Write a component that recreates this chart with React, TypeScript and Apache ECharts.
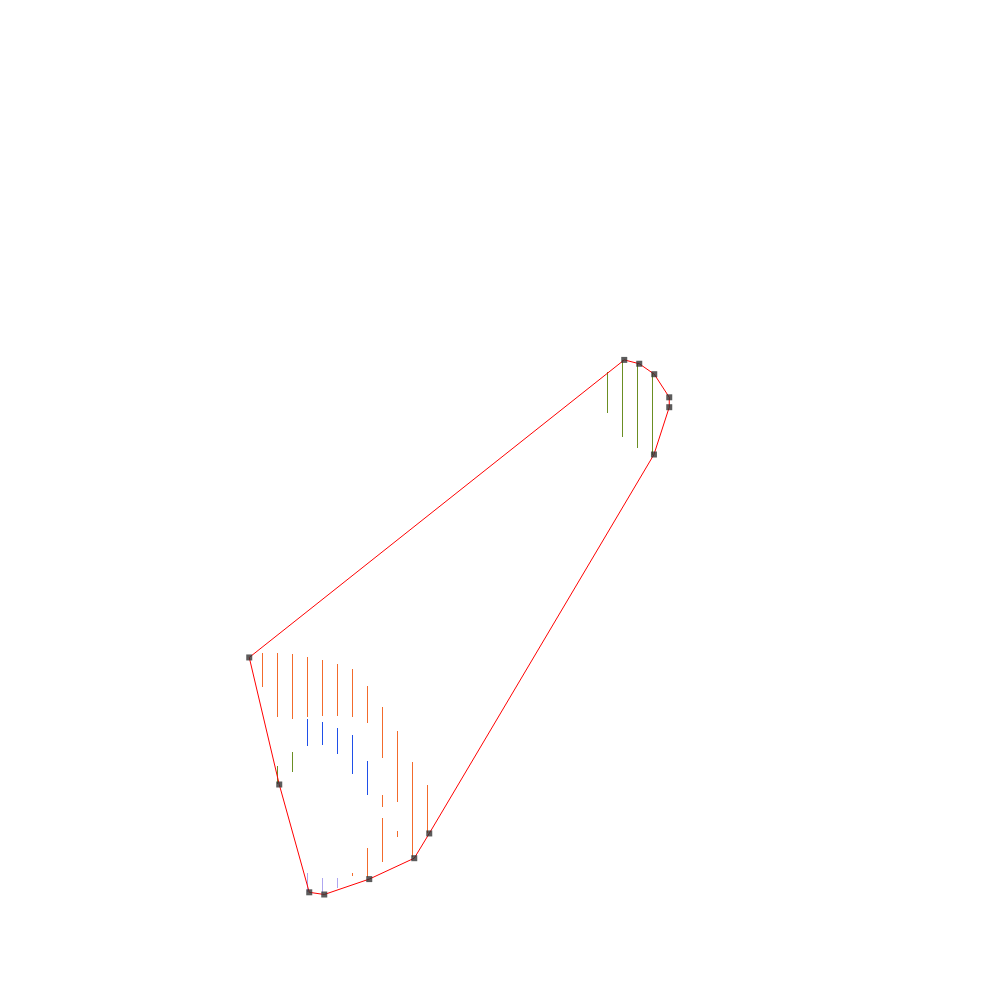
import React, { useEffect, useRef } from "react";
import * as echarts from "echarts";

// Vertical segments: [xIndex, high, low]
const orangeSegs: number[][] = [
  [1, 44.9, 38.7],
  [2, 44.9, 33.3],
  [3, 44.7, 32.9],
  [4, 44.2, 33.3],
  [5, 43.6, 33.5],
  [6, 42.9, 33.5],
  [7, 42.0, 33.3],
  [8, 38.9, 32.2],
  [9, 35.1, 25.8],
  [10, 30.7, 17.8],
  [11, 25.1, 7.8],
  [12, 20.9, 12.2],
  [7, 4.9, 4.3],
  [8, 9.5, 4.2],
  [9, 19.1, 16.9],
  [9, 14.9, 6.9],
  [10, 12.5, 11.5],
];
const blueSegs: number[][] = [
  [4, 32.9, 28.0],
  [5, 32.4, 28.2],
  [6, 31.3, 26.5],
  [7, 30.0, 22.9],
  [8, 25.3, 19.1],
];
const greenSegs: number[][] = [
  [2, 24.4, 21.1],
  [3, 26.9, 23.3],
  [24, 96.0, 88.5],
  [25, 98.2, 84.2],
  [26, 97.6, 82.2],
  [27, 95.8, 80.9],
];
const purpleSegs: number[][] = [
  [4, 4.9, 1.5],
  [5, 4.0, 1.3],
  [6, 4.0, 2.2],
];

// Convex hull vertices: [x, y]
const hullPoints: number[][] = [
  [0.15, 44.1],
  [2.15, 21.0],
  [4.15, 1.4],
  [5.15, 1.0],
  [8.15, 3.8],
  [11.15, 7.6],
  [12.15, 12.1],
  [27.13, 81.0],
  [28.15, 89.6],
  [28.15, 91.4],
  [27.15, 95.6],
  [26.15, 97.5],
  [25.15, 98.2],
];

const segColors = ["#f26b2c", "#1f4fe8", "#6b8e23", "#aea6f0"];

function segSeries(data: number[][], color: string) {
  return {
    type: "custom",
    data,
    clip: false,
    renderItem: (params: any, api: any) => {
      const top = api.coord([api.value(0), api.value(1)]);
      const bot = api.coord([api.value(0), api.value(2)]);
      const x = Math.round(top[0]) + 0.5;
      return {
        type: "line",
        shape: { x1: x, y1: Math.round(top[1]), x2: x, y2: Math.round(bot[1]) },
        style: { stroke: color, lineWidth: 1 },
      };
    },
  };
}

export default function App() {
  const ref = useRef<HTMLDivElement>(null);
  useEffect(() => {
    if (!ref.current) return;
    const chart = echarts.init(ref.current, undefined, { renderer: "svg" });
    chart.setOption({
      animation: false,
      backgroundColor: "#ffffff",
      grid: { left: 247, right: 303, top: 350, bottom: 100 },
      xAxis: { type: "value", min: 0, max: 30, show: false },
      yAxis: { type: "value", min: 0, max: 100, show: false },
      series: [
        segSeries(orangeSegs, segColors[0]),
        segSeries(blueSegs, segColors[1]),
        segSeries(greenSegs, segColors[2]),
        segSeries(purpleSegs, segColors[3]),
        {
          type: "line",
          data: [...hullPoints, hullPoints[0]],
          showSymbol: false,
          symbol: "none",
          clip: false,
          lineStyle: { color: "#ff0000", width: 1 },
          silent: true,
          z: 3,
        },
        {
          type: "scatter",
          data: hullPoints,
          symbol: "rect",
          symbolSize: 6,
          clip: false,
          itemStyle: { color: "#333333" },
          z: 4,
        },
      ],
    });
    return () => chart.dispose();
  }, []);
  return (
    <div
      ref={ref}
      style={{ position: "absolute", left: 0, top: 0, width: 1000, height: 1000 }}
    />
  );
}
